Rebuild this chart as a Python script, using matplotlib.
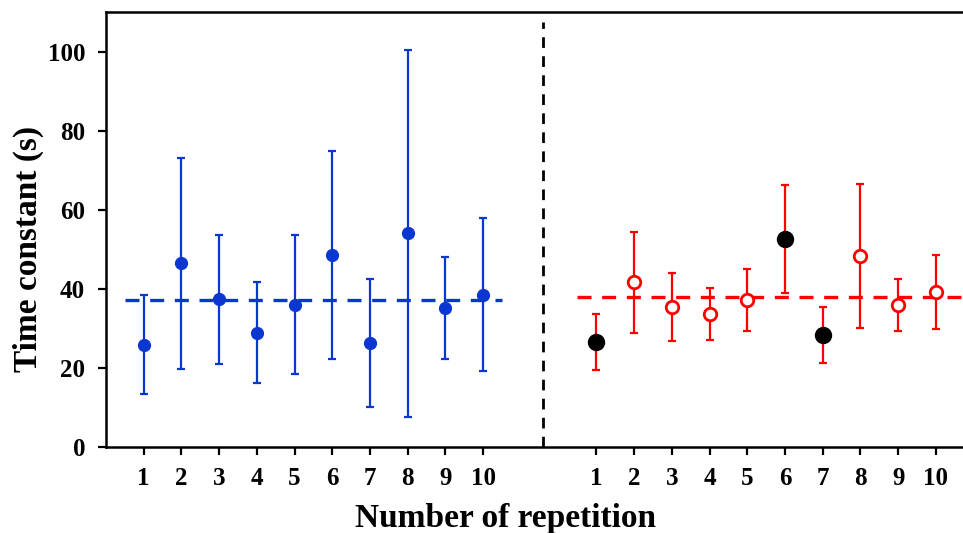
import matplotlib
matplotlib.use('Agg')
import matplotlib.pyplot as plt

# repetition numbers shown under each group
reps = [1, 2, 3, 4, 5, 6, 7, 8, 9, 10]

# left group (blue)
blue_vals = [25.9, 46.4, 37.3, 28.9, 36.0, 48.6, 26.3, 54.0, 35.2, 38.5]
blue_err = [12.5, 26.8, 16.2, 12.7, 17.5, 26.3, 16.2, 46.3, 12.9, 19.3]
blue_mean = 37.2

# right group (red), black points are flagged repetitions
red_vals = [26.5, 41.6, 35.4, 33.6, 37.2, 52.6, 28.3, 48.3, 36.0, 39.2]
red_err = [7.1, 12.7, 8.7, 6.5, 7.9, 13.7, 7.0, 18.3, 6.6, 9.4]
red_flagged = [True, False, False, False, False, True, True, False, False, False]
red_mean = 37.9

BLUE = '#0a37d2'
RED = '#ff0000'

plt.rcParams['font.family'] = ['Liberation Serif', 'DejaVu Serif']
plt.rcParams['font.weight'] = 'bold'

fig = plt.figure(figsize=(9.63, 5.33), dpi=100)
ax = fig.add_axes([0.110, 0.1614, 0.901, 0.8161])

x_left = [r for r in reps]
x_right = [r + 12 for r in reps]

# blue group
ax.errorbar(x_left, blue_vals, yerr=blue_err, fmt='o', color=BLUE,
            ms=8.5, elinewidth=1.6, capsize=3, capthick=1.6, zorder=3)
ax.plot([0.5, 10.5], [blue_mean, blue_mean], color=BLUE, lw=2.4,
        ls=(0, (4.2, 3.2)), zorder=2)

# red group
ax.errorbar(x_right, red_vals, yerr=red_err, fmt='none', ecolor=RED,
            elinewidth=1.6, capsize=3, capthick=1.6, zorder=3)
ax.plot([12.5, 23], [red_mean, red_mean], color=RED, lw=2.4,
        ls=(0, (4.2, 3.2)), zorder=2)
for x, v, f in zip(x_right, red_vals, red_flagged):
    if f:
        ax.plot(x, v, 'o', color='black', ms=11.5, zorder=4)
    else:
        ax.plot(x, v, 'o', mfc='white', mec=RED, mew=2, ms=9, zorder=4)

# separator
ax.plot([11.58, 11.58], [0, 107.5], color='black', lw=2,
        ls=(0, (3.85, 3)), zorder=1)

ax.set_xlim(0, 23)
ax.set_ylim(0, 110)
ax.set_xticks(x_left + x_right)
ax.set_xticklabels([str(r) for r in reps] * 2)
ax.set_yticks([0, 20, 40, 60, 80, 100])

ax.tick_params(direction='out', length=5.5, width=1.6, labelsize=18)
ax.tick_params(axis='x', pad=9)
ax.tick_params(axis='y', pad=9.5)
for s in ['left', 'bottom', 'top']:
    ax.spines[s].set_linewidth(1.8)
ax.spines['right'].set_visible(False)

ax.set_ylabel('Time constant (s)', fontsize=24, fontweight='bold')
ax.set_xlabel('Number of repetition', fontsize=24, fontweight='bold')
ax.yaxis.set_label_coords(-0.071, 0.455)
ax.xaxis.set_label_coords(0.46, -0.128)

fig.savefig('out.png', dpi=100)
